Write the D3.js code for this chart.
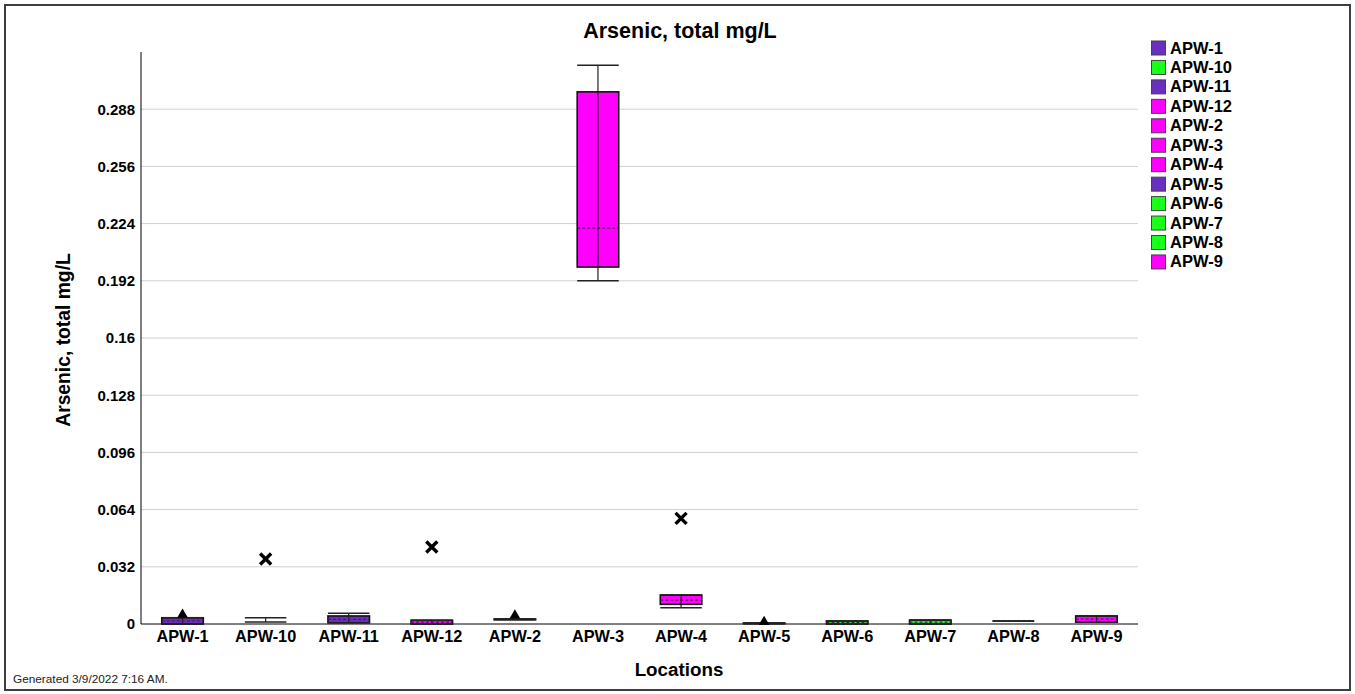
<!DOCTYPE html>
<html><head><meta charset="utf-8">
<script src="https://cdn.jsdelivr.net/npm/d3@7"></script>
<style>body{margin:0;background:#fff;font-family:"Liberation Sans",Arial,sans-serif}</style>
</head><body>
<svg id="c" width="1355" height="694"></svg>
<script>
const categories = ["APW-1","APW-10","APW-11","APW-12","APW-2","APW-3","APW-4","APW-5","APW-6","APW-7","APW-8","APW-9"];
const colors     = ["#6b2fbf","#1aff1a","#6b2fbf","#ff00ff","#ff00ff","#ff00ff","#ff00ff","#6b2fbf","#1aff1a","#1aff1a","#1aff1a","#ff00ff"];
const whiskLow   = [0,      0.0011, 0.0007, 0,      0.0024, 0.192,  0.0091, 0.0002, 0,      0,      0.0017, 0.001 ];
const q1         = [0,      null,   0.0007, 0,      0.0024, 0.1997, 0.011,  0.0002, 0,      0,      0.0017, 0.001 ];
const median     = [0.0017, null,   0.0026, 0.001,  0.0026, 0.2215, 0.0134, 0.0003, 0.0009, 0.0011, 0.0017, 0.0027];
const q3         = [0.0035, null,   0.0045, 0.0021, 0.0028, 0.2977, 0.0162, 0.0005, 0.0017, 0.0022, 0.0017, 0.0045];
const whiskHigh  = [0.0035, 0.0035, 0.006,  0.0021, 0.0028, 0.3126, 0.0162, 0.0005, 0.0017, 0.0022, 0.0017, 0.0045];
const outliers   = [null,   0.0364, null,   0.0431, null,   null,   0.0591, null,   null,   null,   null,   null  ];
const triMarkers = [0.0052, null,   null,   null,   0.0048, null,   null,   0.0012, null,   null,   null,   null  ];
const yTicks     = [0, 0.032, 0.064, 0.096, 0.128, 0.16, 0.192, 0.224, 0.256, 0.288];
const yTickLabels= ["0","0.032","0.064","0.096","0.128","0.16","0.192","0.224","0.256","0.288"];

const svg = d3.select("#c");
const L = 141, R = 1138, T = 52, B = 624;

svg.append("rect").attr("x",5).attr("y",5).attr("width",1345).attr("height",685)
  .attr("fill","#fff").attr("stroke","#3d3d3d").attr("stroke-width",2);

const x = d3.scaleBand().domain(categories).range([L, R]).paddingInner(0).paddingOuter(0);
const y = d3.scaleLinear().domain([0, 0.32]).range([B, T]);
const bw = x.bandwidth() * 0.5;

// grid
svg.append("g").selectAll("line").data(yTicks.slice(1)).join("line")
  .attr("x1", L).attr("x2", R).attr("y1", d => y(d)).attr("y2", d => y(d))
  .attr("stroke", "#d0d0d0").attr("stroke-width", 1);

// y axis
const yAxis = d3.axisLeft(y).tickValues(yTicks).tickFormat((d,i)=>yTickLabels[i]).tickSize(0).tickPadding(6);
const gy = svg.append("g").attr("transform",`translate(${L},0)`).call(yAxis);
gy.select(".domain").attr("stroke","#000").attr("d",`M0,${T}V${B}`);
gy.selectAll("text").attr("font-family","Liberation Sans, Arial").attr("font-size",15).attr("font-weight","bold").attr("fill","#000");

// x axis
const xAxis = d3.axisBottom(x).tickSize(0).tickPadding(6);
const gx = svg.append("g").attr("transform",`translate(0,${B})`).call(xAxis);
gx.select(".domain").attr("stroke","#000").attr("d",`M${L},0H${R}`);
gx.selectAll("text").attr("font-family","Liberation Sans, Arial").attr("font-size",16.3).attr("font-weight","bold").attr("fill","#000");

// boxes
const g = svg.append("g");
categories.forEach((c, i) => {
  const cx = x(c) + x.bandwidth()/2;
  const x0 = cx - bw/2, x1 = cx + bw/2;
  g.append("line").attr("x1",cx).attr("x2",cx).attr("y1",y(whiskLow[i])).attr("y2",y(whiskHigh[i]))
    .attr("stroke","#222").attr("stroke-width",1.2);
  if (q1[i] !== null) {
    g.append("rect").attr("x",x0).attr("width",bw)
      .attr("y",y(q3[i])).attr("height",Math.max(0,y(q1[i])-y(q3[i])))
      .attr("fill",colors[i]).attr("stroke","#111").attr("stroke-width",1.6);
    g.append("line").attr("x1",cx).attr("x2",cx).attr("y1",y(q1[i])).attr("y2",y(q3[i]))
      .attr("stroke","#222").attr("stroke-width",1.2);
    g.append("line").attr("x1",x0).attr("x2",x1).attr("y1",y(median[i])).attr("y2",y(median[i]))
      .attr("stroke","#4a1a5a").attr("stroke-width",1.2).attr("stroke-dasharray","3,2");
  }
  [whiskLow[i], whiskHigh[i]].forEach(v => {
    g.append("line").attr("x1",x0).attr("x2",x1).attr("y1",y(v)).attr("y2",y(v))
      .attr("stroke","#222").attr("stroke-width",1.6);
  });
  if (outliers[i] !== null) {
    const oy = y(outliers[i]), s = 5.5;
    g.append("path").attr("d",`M${cx-s},${oy-s}L${cx+s},${oy+s}M${cx-s},${oy+s}L${cx+s},${oy-s}`)
      .attr("stroke","#000").attr("stroke-width",3.4).attr("stroke-linecap","butt");
  }
  if (triMarkers[i] !== null) {
    g.append("path").attr("d", d3.symbol(d3.symbolTriangle, 50)())
      .attr("transform",`translate(${cx},${y(triMarkers[i])})`).attr("fill","#000");
  }
});

// title & labels
svg.append("text").attr("x",680).attr("y",38).attr("text-anchor","middle")
  .attr("font-size",21.5).attr("font-weight","bold").text("Arsenic, total mg/L");
svg.append("text").attr("transform","translate(70,340) rotate(-90)").attr("text-anchor","middle")
  .attr("font-size",19.3).attr("font-weight","bold").text("Arsenic, total mg/L");
svg.append("text").attr("x",679).attr("y",676).attr("text-anchor","middle")
  .attr("font-size",18.8).attr("font-weight","bold").text("Locations");
svg.append("text").attr("x",13).attr("y",683).attr("font-size",11.8).attr("fill","#222")
  .text("Generated 3/9/2022 7:16 AM.");

// legend
const lg = svg.append("g");
categories.forEach((c,i) => {
  const cy = 48 + i*19.45;
  lg.append("rect").attr("x",1151.5).attr("y",cy-7).attr("width",14).attr("height",14)
    .attr("fill",colors[i]).attr("stroke","#444").attr("stroke-width",1);
  lg.append("text").attr("x",1170).attr("y",cy+5.5).attr("font-size",16.5).attr("font-weight","bold").text(c);
});
</script>
</body></html>
